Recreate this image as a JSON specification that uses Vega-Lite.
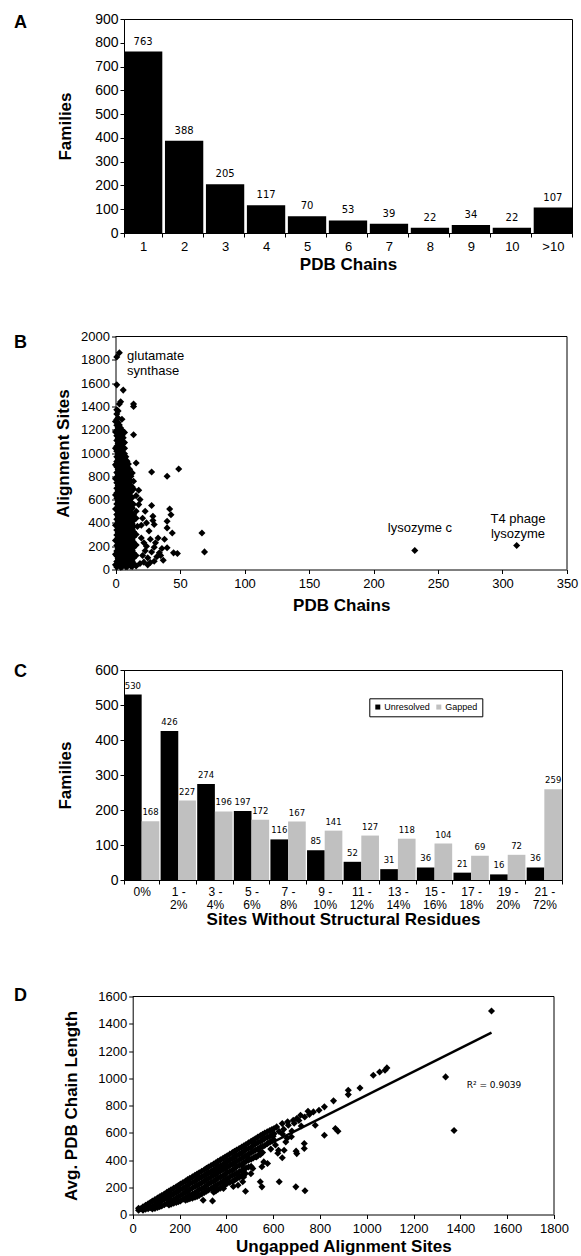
{
  "$schema": "https://vega.github.io/schema/vega-lite/v6.json",
  "background": "white",
  "padding": {"left": 13, "top": 11, "right": 5, "bottom": 2},
  "config": {
    "font": "Liberation Sans",
    "view": {"stroke": "black", "strokeWidth": 1},
    "axis": {"domainColor": "black", "tickColor": "black", "labelColor": "black", "titleColor": "black", "grid": false, "tickSize": 4, "labelFontSize": 12, "titleFontSize": 17, "titleFontWeight": "bold", "labelFont": "Liberation Sans", "titleFont": "Liberation Sans", "labelFlush": false, "labelOverlap": false},
    "title": {"font": "Liberation Sans", "fontSize": 18, "fontWeight": "bold", "anchor": "start", "frame": "group", "color": "black"}
  },
  "datasets": {
    "panelA": [
      {"chains": "1", "families": 763}, {"chains": "2", "families": 388}, {"chains": "3", "families": 205},
      {"chains": "4", "families": 117}, {"chains": "5", "families": 70}, {"chains": "6", "families": 53},
      {"chains": "7", "families": 39}, {"chains": "8", "families": 22}, {"chains": "9", "families": 34},
      {"chains": "10", "families": 22}, {"chains": ">10", "families": 107}
    ],
    "panelC": [
      {"range": "0%", "type": "Unresolved", "families": 530}, {"range": "0%", "type": "Gapped", "families": 168},
      {"range": "1 - 2%", "type": "Unresolved", "families": 426}, {"range": "1 - 2%", "type": "Gapped", "families": 227},
      {"range": "3 - 4%", "type": "Unresolved", "families": 274}, {"range": "3 - 4%", "type": "Gapped", "families": 196},
      {"range": "5 - 6%", "type": "Unresolved", "families": 197}, {"range": "5 - 6%", "type": "Gapped", "families": 172},
      {"range": "7 - 8%", "type": "Unresolved", "families": 116}, {"range": "7 - 8%", "type": "Gapped", "families": 167},
      {"range": "9 - 10%", "type": "Unresolved", "families": 85}, {"range": "9 - 10%", "type": "Gapped", "families": 141},
      {"range": "11 - 12%", "type": "Unresolved", "families": 52}, {"range": "11 - 12%", "type": "Gapped", "families": 127},
      {"range": "13 - 14%", "type": "Unresolved", "families": 31}, {"range": "13 - 14%", "type": "Gapped", "families": 118},
      {"range": "15 - 16%", "type": "Unresolved", "families": 36}, {"range": "15 - 16%", "type": "Gapped", "families": 104},
      {"range": "17 - 18%", "type": "Unresolved", "families": 21}, {"range": "17 - 18%", "type": "Gapped", "families": 69},
      {"range": "19 - 20%", "type": "Unresolved", "families": 16}, {"range": "19 - 20%", "type": "Gapped", "families": 72},
      {"range": "21 - 72%", "type": "Unresolved", "families": 36}, {"range": "21 - 72%", "type": "Gapped", "families": 259}
    ],
    "labelsBLeft": [
      {"chains": 9, "sites": 1830, "label": "glutamate\nsynthase"}
    ],
    "labelsBCenter": [
      {"chains": 236, "sites": 360, "label": "lysozyme c"},
      {"chains": 312, "sites": 434, "label": "T4 phage\nlysozyme"}
    ],
    "panelB": [
      {"chains": 0, "sites": 40}, {"chains": 0, "sites": 130}, {"chains": 0, "sites": 250}, {"chains": 0, "sites": 380}, {"chains": 0, "sites": 520}, {"chains": 0, "sites": 640}, {"chains": 0, "sites": 780}, {"chains": 0, "sites": 900}, {"chains": 0, "sites": 1040}, {"chains": 0, "sites": 1180}, {"chains": 0, "sites": 1270},
      {"chains": 1, "sites": 22}, {"chains": 1, "sites": 68}, {"chains": 1, "sites": 117}, {"chains": 1, "sites": 158}, {"chains": 1, "sites": 207}, {"chains": 1, "sites": 249}, {"chains": 1, "sites": 296}, {"chains": 1, "sites": 338}, {"chains": 1, "sites": 386}, {"chains": 1, "sites": 431}, {"chains": 1, "sites": 473}, {"chains": 1, "sites": 522}, {"chains": 1, "sites": 563}, {"chains": 1, "sites": 611}, {"chains": 1, "sites": 657}, {"chains": 1, "sites": 698}, {"chains": 1, "sites": 744}, {"chains": 1, "sites": 792}, {"chains": 1, "sites": 833}, {"chains": 1, "sites": 881}, {"chains": 1, "sites": 927}, {"chains": 1, "sites": 968}, {"chains": 1, "sites": 1016}, {"chains": 1, "sites": 1058}, {"chains": 1, "sites": 1107}, {"chains": 1, "sites": 1149}, {"chains": 1, "sites": 1196}, {"chains": 1, "sites": 1238}, {"chains": 1, "sites": 1287}, {"chains": 1, "sites": 1334}, {"chains": 1, "sites": 1371}, {"chains": 1, "sites": 1585}, {"chains": 1, "sites": 1825},
      {"chains": 2, "sites": 45}, {"chains": 2, "sites": 92}, {"chains": 2, "sites": 136}, {"chains": 2, "sites": 183}, {"chains": 2, "sites": 228}, {"chains": 2, "sites": 274}, {"chains": 2, "sites": 317}, {"chains": 2, "sites": 362}, {"chains": 2, "sites": 409}, {"chains": 2, "sites": 452}, {"chains": 2, "sites": 497}, {"chains": 2, "sites": 541}, {"chains": 2, "sites": 588}, {"chains": 2, "sites": 633}, {"chains": 2, "sites": 676}, {"chains": 2, "sites": 722}, {"chains": 2, "sites": 768}, {"chains": 2, "sites": 812}, {"chains": 2, "sites": 858}, {"chains": 2, "sites": 903}, {"chains": 2, "sites": 948}, {"chains": 2, "sites": 992}, {"chains": 2, "sites": 1038}, {"chains": 2, "sites": 1083}, {"chains": 2, "sites": 1127}, {"chains": 2, "sites": 1173}, {"chains": 2, "sites": 1216}, {"chains": 2, "sites": 1262}, {"chains": 2, "sites": 1300}, {"chains": 2, "sites": 1360},
      {"chains": 3, "sites": 44}, {"chains": 3, "sites": 90}, {"chains": 3, "sites": 137}, {"chains": 3, "sites": 182}, {"chains": 3, "sites": 229}, {"chains": 3, "sites": 273}, {"chains": 3, "sites": 318}, {"chains": 3, "sites": 364}, {"chains": 3, "sites": 408}, {"chains": 3, "sites": 454}, {"chains": 3, "sites": 498}, {"chains": 3, "sites": 543}, {"chains": 3, "sites": 589}, {"chains": 3, "sites": 633}, {"chains": 3, "sites": 678}, {"chains": 3, "sites": 722}, {"chains": 3, "sites": 767}, {"chains": 3, "sites": 813}, {"chains": 3, "sites": 857}, {"chains": 3, "sites": 902}, {"chains": 3, "sites": 947}, {"chains": 3, "sites": 993}, {"chains": 3, "sites": 1037}, {"chains": 3, "sites": 1083}, {"chains": 3, "sites": 1128}, {"chains": 3, "sites": 1175}, {"chains": 3, "sites": 1240}, {"chains": 3, "sites": 1420}, {"chains": 3, "sites": 1860},
      {"chains": 4, "sites": 20}, {"chains": 4, "sites": 66}, {"chains": 4, "sites": 113}, {"chains": 4, "sites": 161}, {"chains": 4, "sites": 204}, {"chains": 4, "sites": 251}, {"chains": 4, "sites": 293}, {"chains": 4, "sites": 341}, {"chains": 4, "sites": 384}, {"chains": 4, "sites": 429}, {"chains": 4, "sites": 476}, {"chains": 4, "sites": 519}, {"chains": 4, "sites": 566}, {"chains": 4, "sites": 608}, {"chains": 4, "sites": 654}, {"chains": 4, "sites": 701}, {"chains": 4, "sites": 746}, {"chains": 4, "sites": 789}, {"chains": 4, "sites": 836}, {"chains": 4, "sites": 879}, {"chains": 4, "sites": 924}, {"chains": 4, "sites": 971}, {"chains": 4, "sites": 1013}, {"chains": 4, "sites": 1061}, {"chains": 4, "sites": 1104}, {"chains": 4, "sites": 1152}, {"chains": 4, "sites": 1215}, {"chains": 4, "sites": 1440},
      {"chains": 5, "sites": 22}, {"chains": 5, "sites": 67}, {"chains": 5, "sites": 115}, {"chains": 5, "sites": 160}, {"chains": 5, "sites": 206}, {"chains": 5, "sites": 250}, {"chains": 5, "sites": 296}, {"chains": 5, "sites": 340}, {"chains": 5, "sites": 386}, {"chains": 5, "sites": 430}, {"chains": 5, "sites": 476}, {"chains": 5, "sites": 520}, {"chains": 5, "sites": 565}, {"chains": 5, "sites": 611}, {"chains": 5, "sites": 655}, {"chains": 5, "sites": 700}, {"chains": 5, "sites": 745}, {"chains": 5, "sites": 790}, {"chains": 5, "sites": 835}, {"chains": 5, "sites": 880}, {"chains": 5, "sites": 925}, {"chains": 5, "sites": 970}, {"chains": 5, "sites": 1015}, {"chains": 5, "sites": 1071}, {"chains": 5, "sites": 1150}, {"chains": 5, "sites": 1195}, {"chains": 5, "sites": 1290},
      {"chains": 6, "sites": 43}, {"chains": 6, "sites": 89}, {"chains": 6, "sites": 139}, {"chains": 6, "sites": 181}, {"chains": 6, "sites": 231}, {"chains": 6, "sites": 272}, {"chains": 6, "sites": 319}, {"chains": 6, "sites": 363}, {"chains": 6, "sites": 407}, {"chains": 6, "sites": 455}, {"chains": 6, "sites": 498}, {"chains": 6, "sites": 544}, {"chains": 6, "sites": 586}, {"chains": 6, "sites": 632}, {"chains": 6, "sites": 679}, {"chains": 6, "sites": 723}, {"chains": 6, "sites": 766}, {"chains": 6, "sites": 814}, {"chains": 6, "sites": 857}, {"chains": 6, "sites": 902}, {"chains": 6, "sites": 947}, {"chains": 6, "sites": 995}, {"chains": 6, "sites": 1040}, {"chains": 6, "sites": 1082}, {"chains": 6, "sites": 1130}, {"chains": 6, "sites": 1540},
      {"chains": 7, "sites": 46}, {"chains": 7, "sites": 91}, {"chains": 7, "sites": 136}, {"chains": 7, "sites": 182}, {"chains": 7, "sites": 228}, {"chains": 7, "sites": 273}, {"chains": 7, "sites": 318}, {"chains": 7, "sites": 364}, {"chains": 7, "sites": 409}, {"chains": 7, "sites": 454}, {"chains": 7, "sites": 499}, {"chains": 7, "sites": 544}, {"chains": 7, "sites": 590}, {"chains": 7, "sites": 634}, {"chains": 7, "sites": 679}, {"chains": 7, "sites": 724}, {"chains": 7, "sites": 768}, {"chains": 7, "sites": 813}, {"chains": 7, "sites": 858}, {"chains": 7, "sites": 903}, {"chains": 7, "sites": 948}, {"chains": 7, "sites": 993}, {"chains": 7, "sites": 1040}, {"chains": 7, "sites": 1090}, {"chains": 7, "sites": 1177},
      {"chains": 8, "sites": 24}, {"chains": 8, "sites": 70}, {"chains": 8, "sites": 114}, {"chains": 8, "sites": 163}, {"chains": 8, "sites": 206}, {"chains": 8, "sites": 252}, {"chains": 8, "sites": 297}, {"chains": 8, "sites": 343}, {"chains": 8, "sites": 387}, {"chains": 8, "sites": 432}, {"chains": 8, "sites": 474}, {"chains": 8, "sites": 521}, {"chains": 8, "sites": 567}, {"chains": 8, "sites": 612}, {"chains": 8, "sites": 656}, {"chains": 8, "sites": 699}, {"chains": 8, "sites": 745}, {"chains": 8, "sites": 791}, {"chains": 8, "sites": 836}, {"chains": 8, "sites": 880}, {"chains": 8, "sites": 925}, {"chains": 8, "sites": 968},
      {"chains": 9, "sites": 23}, {"chains": 9, "sites": 69}, {"chains": 9, "sites": 115}, {"chains": 9, "sites": 161}, {"chains": 9, "sites": 206}, {"chains": 9, "sites": 252}, {"chains": 9, "sites": 297}, {"chains": 9, "sites": 342}, {"chains": 9, "sites": 388}, {"chains": 9, "sites": 433}, {"chains": 9, "sites": 478}, {"chains": 9, "sites": 523}, {"chains": 9, "sites": 568}, {"chains": 9, "sites": 613}, {"chains": 9, "sites": 658}, {"chains": 9, "sites": 703}, {"chains": 9, "sites": 748}, {"chains": 9, "sites": 793}, {"chains": 9, "sites": 838}, {"chains": 9, "sites": 883}, {"chains": 9, "sites": 930},
      {"chains": 10, "sites": 47}, {"chains": 10, "sites": 93}, {"chains": 10, "sites": 137}, {"chains": 10, "sites": 184}, {"chains": 10, "sites": 229}, {"chains": 10, "sites": 275}, {"chains": 10, "sites": 318}, {"chains": 10, "sites": 365}, {"chains": 10, "sites": 410}, {"chains": 10, "sites": 453}, {"chains": 10, "sites": 499}, {"chains": 10, "sites": 545}, {"chains": 10, "sites": 589}, {"chains": 10, "sites": 635}, {"chains": 10, "sites": 677}, {"chains": 10, "sites": 724}, {"chains": 10, "sites": 769}, {"chains": 10, "sites": 815}, {"chains": 10, "sites": 859}, {"chains": 10, "sites": 905},
      {"chains": 11, "sites": 46}, {"chains": 11, "sites": 92}, {"chains": 11, "sites": 138}, {"chains": 11, "sites": 183}, {"chains": 11, "sites": 228}, {"chains": 11, "sites": 274}, {"chains": 11, "sites": 319}, {"chains": 11, "sites": 365}, {"chains": 11, "sites": 410}, {"chains": 11, "sites": 455}, {"chains": 11, "sites": 500}, {"chains": 11, "sites": 546}, {"chains": 11, "sites": 590}, {"chains": 11, "sites": 614}, {"chains": 11, "sites": 680}, {"chains": 11, "sites": 725}, {"chains": 11, "sites": 770}, {"chains": 11, "sites": 815}, {"chains": 11, "sites": 860},
      {"chains": 12, "sites": 28}, {"chains": 12, "sites": 72}, {"chains": 12, "sites": 118}, {"chains": 12, "sites": 165}, {"chains": 12, "sites": 211}, {"chains": 12, "sites": 254}, {"chains": 12, "sites": 300}, {"chains": 12, "sites": 346}, {"chains": 12, "sites": 392}, {"chains": 12, "sites": 438}, {"chains": 12, "sites": 483}, {"chains": 12, "sites": 530}, {"chains": 12, "sites": 575}, {"chains": 12, "sites": 621}, {"chains": 12, "sites": 666}, {"chains": 12, "sites": 712}, {"chains": 12, "sites": 757}, {"chains": 12, "sites": 800},
      {"chains": 13, "sites": 25}, {"chains": 13, "sites": 71}, {"chains": 13, "sites": 117}, {"chains": 13, "sites": 162}, {"chains": 13, "sites": 208}, {"chains": 13, "sites": 253}, {"chains": 13, "sites": 345}, {"chains": 13, "sites": 390}, {"chains": 13, "sites": 436}, {"chains": 13, "sites": 527}, {"chains": 13, "sites": 618}, {"chains": 13, "sites": 708}, {"chains": 13, "sites": 829},
      {"chains": 14, "sites": 52}, {"chains": 14, "sites": 98}, {"chains": 14, "sites": 141}, {"chains": 14, "sites": 188}, {"chains": 14, "sites": 233}, {"chains": 14, "sites": 279}, {"chains": 14, "sites": 325}, {"chains": 14, "sites": 370}, {"chains": 14, "sites": 420}, {"chains": 14, "sites": 470}, {"chains": 14, "sites": 560}, {"chains": 14, "sites": 690}, {"chains": 14, "sites": 757}, {"chains": 14, "sites": 1157}, {"chains": 14, "sites": 1400}, {"chains": 14, "sites": 1420},
      {"chains": 16, "sites": 30}, {"chains": 16, "sites": 120}, {"chains": 16, "sites": 210}, {"chains": 16, "sites": 300}, {"chains": 16, "sites": 440}, {"chains": 16, "sites": 500}, {"chains": 16, "sites": 634}, {"chains": 16, "sites": 914},
      {"chains": 17, "sites": 370}, {"chains": 18, "sites": 680}, {"chains": 19, "sites": 600}, {"chains": 18, "sites": 557}, {"chains": 19, "sites": 51}, {"chains": 20, "sites": 270}, {"chains": 20, "sites": 380}, {"chains": 21, "sites": 120}, {"chains": 21, "sites": 440}, {"chains": 22, "sites": 63}, {"chains": 22, "sites": 230}, {"chains": 23, "sites": 160}, {"chains": 23, "sites": 500}, {"chains": 24, "sites": 200}, {"chains": 24, "sites": 400}, {"chains": 25, "sites": 100}, {"chains": 25, "sites": 40}, {"chains": 26, "sites": 330}, {"chains": 27, "sites": 260}, {"chains": 27, "sites": 60}, {"chains": 28, "sites": 549}, {"chains": 28, "sites": 837}, {"chains": 28, "sites": 150}, {"chains": 29, "sites": 457}, {"chains": 29, "sites": 420}, {"chains": 30, "sites": 386}, {"chains": 30, "sites": 191}, {"chains": 30, "sites": 71}, {"chains": 31, "sites": 230}, {"chains": 32, "sites": 110}, {"chains": 33, "sites": 271}, {"chains": 34, "sites": 143}, {"chains": 35, "sites": 120}, {"chains": 36, "sites": 180}, {"chains": 37, "sites": 80}, {"chains": 38, "sites": 260}, {"chains": 40, "sites": 800}, {"chains": 40, "sites": 414}, {"chains": 40, "sites": 357}, {"chains": 40, "sites": 186}, {"chains": 42, "sites": 520}, {"chains": 43, "sites": 470}, {"chains": 44, "sites": 314}, {"chains": 45, "sites": 143}, {"chains": 48, "sites": 137}, {"chains": 49, "sites": 863}, {"chains": 67, "sites": 314}, {"chains": 69, "sites": 151}, {"chains": 232, "sites": 163}, {"chains": 311, "sites": 206}
    ],
    "panelD": [
      {"ungapped": 25, "length": 31}, {"ungapped": 25, "length": 46}, {"ungapped": 35, "length": 42},
      {"ungapped": 44, "length": 56}, {"ungapped": 44, "length": 31}, {"ungapped": 55, "length": 67}, {"ungapped": 55, "length": 38},
      {"ungapped": 66, "length": 79}, {"ungapped": 66, "length": 43}, {"ungapped": 75, "length": 88}, {"ungapped": 75, "length": 50},
      {"ungapped": 84, "length": 98}, {"ungapped": 84, "length": 57}, {"ungapped": 84, "length": 40}, {"ungapped": 95, "length": 109}, {"ungapped": 95, "length": 70}, {"ungapped": 95, "length": 45},
      {"ungapped": 106, "length": 121}, {"ungapped": 106, "length": 83}, {"ungapped": 106, "length": 52}, {"ungapped": 115, "length": 130}, {"ungapped": 115, "length": 92}, {"ungapped": 115, "length": 58},
      {"ungapped": 124, "length": 140}, {"ungapped": 124, "length": 103}, {"ungapped": 124, "length": 63}, {"ungapped": 135, "length": 151}, {"ungapped": 135, "length": 112}, {"ungapped": 135, "length": 72},
      {"ungapped": 146, "length": 163}, {"ungapped": 146, "length": 121}, {"ungapped": 146, "length": 81}, {"ungapped": 155, "length": 172}, {"ungapped": 155, "length": 131}, {"ungapped": 155, "length": 91}, {"ungapped": 155, "length": 70},
      {"ungapped": 164, "length": 182}, {"ungapped": 164, "length": 142}, {"ungapped": 164, "length": 102}, {"ungapped": 164, "length": 76}, {"ungapped": 175, "length": 193}, {"ungapped": 175, "length": 151}, {"ungapped": 175, "length": 111}, {"ungapped": 175, "length": 82},
      {"ungapped": 186, "length": 204}, {"ungapped": 186, "length": 161}, {"ungapped": 186, "length": 121}, {"ungapped": 186, "length": 88}, {"ungapped": 195, "length": 213}, {"ungapped": 195, "length": 172}, {"ungapped": 195, "length": 130}, {"ungapped": 195, "length": 93},
      {"ungapped": 204, "length": 223}, {"ungapped": 204, "length": 184}, {"ungapped": 204, "length": 140}, {"ungapped": 204, "length": 99}, {"ungapped": 215, "length": 234}, {"ungapped": 215, "length": 193}, {"ungapped": 215, "length": 152}, {"ungapped": 215, "length": 112},
      {"ungapped": 226, "length": 246}, {"ungapped": 226, "length": 203}, {"ungapped": 226, "length": 164}, {"ungapped": 226, "length": 124}, {"ungapped": 226, "length": 104}, {"ungapped": 235, "length": 256}, {"ungapped": 235, "length": 214}, {"ungapped": 235, "length": 173}, {"ungapped": 235, "length": 133}, {"ungapped": 235, "length": 110},
      {"ungapped": 244, "length": 265}, {"ungapped": 244, "length": 226}, {"ungapped": 244, "length": 183}, {"ungapped": 244, "length": 143}, {"ungapped": 244, "length": 116}, {"ungapped": 255, "length": 276}, {"ungapped": 255, "length": 235}, {"ungapped": 255, "length": 194}, {"ungapped": 255, "length": 151}, {"ungapped": 255, "length": 120},
      {"ungapped": 266, "length": 288}, {"ungapped": 266, "length": 245}, {"ungapped": 266, "length": 205}, {"ungapped": 266, "length": 160}, {"ungapped": 266, "length": 127}, {"ungapped": 275, "length": 297}, {"ungapped": 275, "length": 256}, {"ungapped": 275, "length": 213}, {"ungapped": 275, "length": 171}, {"ungapped": 275, "length": 133},
      {"ungapped": 284, "length": 306}, {"ungapped": 284, "length": 267}, {"ungapped": 284, "length": 222}, {"ungapped": 284, "length": 182}, {"ungapped": 284, "length": 140}, {"ungapped": 295, "length": 318}, {"ungapped": 295, "length": 276}, {"ungapped": 295, "length": 234}, {"ungapped": 295, "length": 191}, {"ungapped": 295, "length": 150},
      {"ungapped": 306, "length": 329}, {"ungapped": 306, "length": 286}, {"ungapped": 306, "length": 246}, {"ungapped": 306, "length": 201}, {"ungapped": 306, "length": 161}, {"ungapped": 315, "length": 339}, {"ungapped": 315, "length": 297}, {"ungapped": 315, "length": 256}, {"ungapped": 315, "length": 212}, {"ungapped": 315, "length": 170},
      {"ungapped": 324, "length": 348}, {"ungapped": 324, "length": 309}, {"ungapped": 324, "length": 265}, {"ungapped": 324, "length": 224}, {"ungapped": 324, "length": 180}, {"ungapped": 335, "length": 360}, {"ungapped": 335, "length": 318}, {"ungapped": 335, "length": 276}, {"ungapped": 335, "length": 234}, {"ungapped": 335, "length": 191},
      {"ungapped": 346, "length": 371}, {"ungapped": 346, "length": 328}, {"ungapped": 346, "length": 288}, {"ungapped": 346, "length": 244}, {"ungapped": 346, "length": 202}, {"ungapped": 346, "length": 163}, {"ungapped": 355, "length": 380}, {"ungapped": 355, "length": 339}, {"ungapped": 355, "length": 297}, {"ungapped": 355, "length": 255}, {"ungapped": 355, "length": 212}, {"ungapped": 355, "length": 172},
      {"ungapped": 364, "length": 390}, {"ungapped": 364, "length": 351}, {"ungapped": 364, "length": 307}, {"ungapped": 364, "length": 267}, {"ungapped": 364, "length": 222}, {"ungapped": 364, "length": 183}, {"ungapped": 375, "length": 401}, {"ungapped": 375, "length": 360}, {"ungapped": 375, "length": 318}, {"ungapped": 375, "length": 276}, {"ungapped": 375, "length": 233}, {"ungapped": 375, "length": 193},
      {"ungapped": 386, "length": 412}, {"ungapped": 386, "length": 369}, {"ungapped": 386, "length": 329}, {"ungapped": 386, "length": 285}, {"ungapped": 386, "length": 245}, {"ungapped": 386, "length": 204}, {"ungapped": 395, "length": 422}, {"ungapped": 395, "length": 380}, {"ungapped": 395, "length": 338}, {"ungapped": 395, "length": 296}, {"ungapped": 395, "length": 254}, {"ungapped": 395, "length": 216},
      {"ungapped": 404, "length": 431}, {"ungapped": 404, "length": 392}, {"ungapped": 404, "length": 348}, {"ungapped": 404, "length": 308}, {"ungapped": 404, "length": 264}, {"ungapped": 404, "length": 229}, {"ungapped": 415, "length": 443}, {"ungapped": 415, "length": 401}, {"ungapped": 415, "length": 359}, {"ungapped": 415, "length": 317}, {"ungapped": 415, "length": 275}, {"ungapped": 415, "length": 236},
      {"ungapped": 426, "length": 454}, {"ungapped": 426, "length": 411}, {"ungapped": 426, "length": 371}, {"ungapped": 426, "length": 327}, {"ungapped": 426, "length": 287}, {"ungapped": 426, "length": 242}, {"ungapped": 435, "length": 464}, {"ungapped": 435, "length": 422}, {"ungapped": 435, "length": 380}, {"ungapped": 435, "length": 338}, {"ungapped": 435, "length": 294}, {"ungapped": 435, "length": 252},
      {"ungapped": 444, "length": 473}, {"ungapped": 444, "length": 434}, {"ungapped": 444, "length": 390}, {"ungapped": 444, "length": 350}, {"ungapped": 444, "length": 302}, {"ungapped": 444, "length": 263}, {"ungapped": 455, "length": 485}, {"ungapped": 455, "length": 443}, {"ungapped": 455, "length": 401}, {"ungapped": 455, "length": 359}, {"ungapped": 455, "length": 313}, {"ungapped": 455, "length": 272},
      {"ungapped": 466, "length": 496}, {"ungapped": 466, "length": 453}, {"ungapped": 466, "length": 413}, {"ungapped": 466, "length": 369}, {"ungapped": 466, "length": 323}, {"ungapped": 466, "length": 282}, {"ungapped": 475, "length": 505}, {"ungapped": 475, "length": 464}, {"ungapped": 475, "length": 422}, {"ungapped": 475, "length": 379}, {"ungapped": 475, "length": 332}, {"ungapped": 475, "length": 292},
      {"ungapped": 484, "length": 514}, {"ungapped": 484, "length": 475}, {"ungapped": 484, "length": 431}, {"ungapped": 484, "length": 389}, {"ungapped": 484, "length": 341}, {"ungapped": 495, "length": 526}, {"ungapped": 495, "length": 484}, {"ungapped": 495, "length": 443}, {"ungapped": 495, "length": 398}, {"ungapped": 495, "length": 348},
      {"ungapped": 506, "length": 537}, {"ungapped": 506, "length": 494}, {"ungapped": 506, "length": 454}, {"ungapped": 506, "length": 406}, {"ungapped": 506, "length": 353}, {"ungapped": 515, "length": 547}, {"ungapped": 515, "length": 506}, {"ungapped": 515, "length": 462}, {"ungapped": 515, "length": 415},
      {"ungapped": 524, "length": 556}, {"ungapped": 524, "length": 517}, {"ungapped": 524, "length": 471}, {"ungapped": 524, "length": 424}, {"ungapped": 535, "length": 568}, {"ungapped": 535, "length": 527}, {"ungapped": 535, "length": 482}, {"ungapped": 535, "length": 432},
      {"ungapped": 546, "length": 579}, {"ungapped": 546, "length": 536}, {"ungapped": 546, "length": 493}, {"ungapped": 546, "length": 440}, {"ungapped": 555, "length": 588}, {"ungapped": 555, "length": 547}, {"ungapped": 555, "length": 500}, {"ungapped": 555, "length": 455},
      {"ungapped": 564, "length": 597}, {"ungapped": 564, "length": 557}, {"ungapped": 564, "length": 506}, {"ungapped": 575, "length": 607}, {"ungapped": 575, "length": 566}, {"ungapped": 575, "length": 520},
      {"ungapped": 586, "length": 617}, {"ungapped": 586, "length": 575}, {"ungapped": 586, "length": 532}, {"ungapped": 595, "length": 624}, {"ungapped": 595, "length": 584}, {"ungapped": 595, "length": 540},
      {"ungapped": 604, "length": 631}, {"ungapped": 604, "length": 593}, {"ungapped": 604, "length": 547},
      {"ungapped": 615, "length": 643}, {"ungapped": 639, "length": 667}, {"ungapped": 662, "length": 680}, {"ungapped": 686, "length": 692}, {"ungapped": 701, "length": 704}, {"ungapped": 717, "length": 729}, {"ungapped": 749, "length": 758}, {"ungapped": 772, "length": 753}, {"ungapped": 796, "length": 765}, {"ungapped": 819, "length": 790}, {"ungapped": 858, "length": 834}, {"ungapped": 921, "length": 912}, {"ungapped": 921, "length": 880}, {"ungapped": 971, "length": 929}, {"ungapped": 1028, "length": 1022}, {"ungapped": 1055, "length": 1046}, {"ungapped": 1078, "length": 1059}, {"ungapped": 1086, "length": 1076},
      {"ungapped": 780, "length": 655}, {"ungapped": 866, "length": 631}, {"ungapped": 877, "length": 611}, {"ungapped": 819, "length": 582}, {"ungapped": 733, "length": 521}, {"ungapped": 733, "length": 484}, {"ungapped": 698, "length": 465}, {"ungapped": 701, "length": 447}, {"ungapped": 639, "length": 416}, {"ungapped": 623, "length": 472}, {"ungapped": 647, "length": 472}, {"ungapped": 678, "length": 570}, {"ungapped": 654, "length": 533}, {"ungapped": 576, "length": 374}, {"ungapped": 552, "length": 350}, {"ungapped": 529, "length": 423}, {"ungapped": 560, "length": 386}, {"ungapped": 497, "length": 411}, {"ungapped": 513, "length": 337}, {"ungapped": 466, "length": 362}, {"ungapped": 482, "length": 301}, {"ungapped": 450, "length": 289}, {"ungapped": 474, "length": 276}, {"ungapped": 545, "length": 240}, {"ungapped": 552, "length": 203}, {"ungapped": 450, "length": 215}, {"ungapped": 482, "length": 171}, {"ungapped": 626, "length": 240}, {"ungapped": 697, "length": 203}, {"ungapped": 736, "length": 174}, {"ungapped": 301, "length": 105}, {"ungapped": 341, "length": 100}, {"ungapped": 388, "length": 191},
      {"ungapped": 1337, "length": 1010}, {"ungapped": 1373, "length": 616}, {"ungapped": 1533, "length": 1494},
      {"ungapped": 625, "length": 610}, {"ungapped": 645, "length": 625}, {"ungapped": 665, "length": 655}, {"ungapped": 690, "length": 670}, {"ungapped": 710, "length": 690}, {"ungapped": 735, "length": 715}, {"ungapped": 755, "length": 735}, {"ungapped": 600, "length": 575}, {"ungapped": 640, "length": 590}, {"ungapped": 680, "length": 612}, {"ungapped": 720, "length": 650}, {"ungapped": 660, "length": 560}, {"ungapped": 610, "length": 510}, {"ungapped": 590, "length": 480}, {"ungapped": 620, "length": 450}, {"ungapped": 540, "length": 470}, {"ungapped": 505, "length": 300}, {"ungapped": 470, "length": 240}, {"ungapped": 430, "length": 205}, {"ungapped": 400, "length": 238}
    ],
    "trendD": [
      {"ungapped": 25, "length": 36},
      {"ungapped": 1533, "length": 1335}
    ],
    "labelD": [
      {"ungapped": 1427, "length": 953, "label": "R² = 0.9039"}
    ]
  },
  "vconcat": [
    {
      "spacing": 57.5,
      "vconcat": [
        {
          "title": {"text": "A", "dx": -110, "dy": 20, "baseline": "top", "offset": 0},
          "width": 448,
          "height": 214,
          "data": {"name": "panelA"},
          "encoding": {
            "x": {"field": "chains", "type": "ordinal", "sort": null, "scale": {"paddingInner": 0.065, "paddingOuter": 0}, "axis": {"title": "PDB Chains", "labelAngle": 0, "tickBand": "extent", "labelFontSize": 13, "labelPadding": 3, "titlePadding": 3}},
            "y": {"field": "families", "type": "quantitative", "scale": {"domain": [0, 900], "nice": false}, "axis": {"title": "Families", "values": [0, 100, 200, 300, 400, 500, 600, 700, 800, 900], "labelFontSize": 14, "labelPadding": 2, "titlePadding": 20.3}}
          },
          "layer": [
            {"mark": {"type": "bar", "color": "black"}},
            {"mark": {"type": "text", "baseline": "bottom", "dy": -5, "font": "DejaVu Sans", "fontSize": 10, "color": "black"}, "encoding": {"text": {"field": "families"}}}
          ]
        },
        {
          "title": {"text": "B", "dx": -110, "dy": 21, "baseline": "top", "offset": 0},
          "width": 443,
          "height": 233,
          "view": {"stroke": null},
          "layer": [
            {
              "data": {"name": "panelB"},
              "mark": {"type": "point", "shape": "diamond", "filled": true, "color": "black", "size": 50, "opacity": 1},
              "encoding": {
                "x": {"field": "chains", "type": "quantitative", "scale": {"domain": [0, 350], "nice": false, "range": [-8.5, 443]}, "axis": {"title": "PDB Chains", "format": "d", "values": [0, 50, 100, 150, 200, 250, 300, 350], "labelFontSize": 13, "labelPadding": 4, "titlePadding": 7}},
                "y": {"field": "sites", "type": "quantitative", "scale": {"domain": [0, 2000], "nice": false}, "axis": {"title": "Alignment Sites", "format": "d", "offset": 8.5, "values": [0, 200, 400, 600, 800, 1000, 1200, 1400, 1600, 1800, 2000], "labelFontSize": 13, "labelPadding": 2, "titlePadding": 8.3}}
              }
            },
            {
              "data": {"values": [{}]},
              "mark": {"type": "rule", "color": "black", "strokeWidth": 1},
              "encoding": {
                "x": {"datum": 0, "type": "quantitative", "axis": {"title": "PDB Chains", "format": "d", "values": [0, 50, 100, 150, 200, 250, 300, 350], "labelFontSize": 13, "labelPadding": 4, "titlePadding": 7}},
                "x2": {"datum": 350},
                "y": {"datum": 2000, "type": "quantitative", "axis": {"title": "Alignment Sites", "format": "d", "offset": 8.5, "values": [0, 200, 400, 600, 800, 1000, 1200, 1400, 1600, 1800, 2000], "labelFontSize": 13, "labelPadding": 2, "titlePadding": 8.3}}
              }
            },
            {
              "data": {"values": [{}]},
              "mark": {"type": "rule", "color": "black", "strokeWidth": 1},
              "encoding": {
                "x": {"datum": 350, "type": "quantitative", "axis": {"title": "PDB Chains", "format": "d", "values": [0, 50, 100, 150, 200, 250, 300, 350], "labelFontSize": 13, "labelPadding": 4, "titlePadding": 7}},
                "y": {"datum": 0, "type": "quantitative", "axis": {"title": "Alignment Sites", "format": "d", "offset": 8.5, "values": [0, 200, 400, 600, 800, 1000, 1200, 1400, 1600, 1800, 2000], "labelFontSize": 13, "labelPadding": 2, "titlePadding": 8.3}},
                "y2": {"datum": 2000}
              }
            },
            {
              "data": {"name": "labelsBLeft"},
              "mark": {"type": "text", "align": "left", "baseline": "middle", "lineBreak": "\n", "fontSize": 13, "lineHeight": 15, "color": "black"},
              "encoding": {
                "x": {"field": "chains", "type": "quantitative", "axis": {"title": "PDB Chains", "format": "d", "values": [0, 50, 100, 150, 200, 250, 300, 350], "labelFontSize": 13, "labelPadding": 4, "titlePadding": 7}},
                "y": {"field": "sites", "type": "quantitative", "axis": {"title": "Alignment Sites", "format": "d", "offset": 8.5, "values": [0, 200, 400, 600, 800, 1000, 1200, 1400, 1600, 1800, 2000], "labelFontSize": 13, "labelPadding": 2, "titlePadding": 8.3}},
                "text": {"field": "label"}
              }
            },
            {
              "data": {"name": "labelsBCenter"},
              "mark": {"type": "text", "align": "center", "baseline": "middle", "lineBreak": "\n", "fontSize": 13, "lineHeight": 15, "color": "black"},
              "encoding": {
                "x": {"field": "chains", "type": "quantitative", "axis": {"title": "PDB Chains", "format": "d", "values": [0, 50, 100, 150, 200, 250, 300, 350], "labelFontSize": 13, "labelPadding": 4, "titlePadding": 7}},
                "y": {"field": "sites", "type": "quantitative", "axis": {"title": "Alignment Sites", "format": "d", "offset": 8.5, "values": [0, 200, 400, 600, 800, 1000, 1200, 1400, 1600, 1800, 2000], "labelFontSize": 13, "labelPadding": 2, "titlePadding": 8.3}},
                "text": {"field": "label"}
              }
            }
          ]
        }
      ]
    },
    {
      "spacing": 58.5,
      "vconcat": [
        {
          "title": {"text": "C", "dx": -110, "dy": 18, "baseline": "top", "offset": 0},
          "width": 438,
          "height": 210,
          "data": {"name": "panelC"},
          "encoding": {
            "x": {"field": "range", "type": "nominal", "sort": null, "scale": {"paddingInner": 0.035, "paddingOuter": 0}, "axis": {"title": "Sites Without Structural Residues", "labelAngle": 0, "tickBand": "extent", "labelFontSize": 12, "labelLineHeight": 13.5, "labelBaseline": "top", "labelPadding": 2, "titlePadding": 1, "labelExpr": "indexof(datum.label, ' - ') > 0 ? [split(datum.label, ' - ')[0] + ' -', split(datum.label, ' - ')[1]] : datum.label"}},
            "xOffset": {"field": "type", "type": "nominal", "sort": ["Unresolved", "Gapped"], "scale": {"paddingInner": 0, "paddingOuter": 0}},
            "y": {"field": "families", "type": "quantitative", "scale": {"domain": [0, 600], "nice": false}, "axis": {"title": "Families", "values": [0, 100, 200, 300, 400, 500, 600], "labelFontSize": 14, "labelPadding": 2, "titlePadding": 20.3}}
          },
          "layer": [
            {
              "mark": {"type": "bar"},
              "encoding": {
                "color": {"field": "type", "type": "nominal", "sort": ["Unresolved", "Gapped"], "scale": {"domain": ["Unresolved", "Gapped"], "range": ["black", "#c0c0c0"]}, "legend": {"title": null, "orient": "none", "legendX": 245.3, "legendY": 679.3, "direction": "horizontal", "symbolType": "square", "symbolSize": 25, "strokeColor": "black", "fillColor": "white", "padding": 4, "labelFontSize": 9, "labelFont": "Liberation Sans", "columnPadding": 4, "labelOffset": 2}}
              }
            },
            {
              "mark": {"type": "text", "baseline": "bottom", "dy": -4, "font": "DejaVu Sans", "fontSize": 8.5, "color": "black"},
              "encoding": {"text": {"field": "families"}}
            }
          ]
        },
        {
          "title": {"text": "D", "dx": -110, "dy": 14, "baseline": "top", "offset": 0},
          "width": 430,
          "height": 218,
          "view": {"stroke": null},
          "layer": [
            {
              "data": {"name": "panelD"},
              "mark": {"type": "point", "shape": "diamond", "filled": true, "color": "black", "size": 50, "opacity": 1},
              "encoding": {
                "x": {"field": "ungapped", "type": "quantitative", "scale": {"domain": [0, 1800], "nice": false, "range": [8.7, 430]}, "axis": {"title": "Ungapped Alignment Sites", "format": "d", "values": [0, 200, 400, 600, 800, 1000, 1200, 1400, 1600, 1800], "labelFontSize": 13, "labelPadding": 4, "titlePadding": 3}},
                "y": {"field": "length", "type": "quantitative", "scale": {"domain": [0, 1600], "nice": false}, "axis": {"title": "Avg. PDB Chain Length", "format": "d", "offset": -8.7, "values": [0, 200, 400, 600, 800, 1000, 1200, 1400, 1600], "labelFontSize": 13, "labelPadding": 2, "titlePadding": 17.3}}
              }
            },
            {
              "data": {"values": [{}]},
              "mark": {"type": "rule", "color": "black", "strokeWidth": 1},
              "encoding": {
                "x": {"datum": 0, "type": "quantitative", "axis": {"title": "Ungapped Alignment Sites", "format": "d", "values": [0, 200, 400, 600, 800, 1000, 1200, 1400, 1600, 1800], "labelFontSize": 13, "labelPadding": 4, "titlePadding": 3}},
                "x2": {"datum": 1800},
                "y": {"datum": 1600, "type": "quantitative", "axis": {"title": "Avg. PDB Chain Length", "format": "d", "offset": -8.7, "values": [0, 200, 400, 600, 800, 1000, 1200, 1400, 1600], "labelFontSize": 13, "labelPadding": 2, "titlePadding": 17.3}}
              }
            },
            {
              "data": {"values": [{}]},
              "mark": {"type": "rule", "color": "black", "strokeWidth": 1},
              "encoding": {
                "x": {"datum": 1800, "type": "quantitative", "axis": {"title": "Ungapped Alignment Sites", "format": "d", "values": [0, 200, 400, 600, 800, 1000, 1200, 1400, 1600, 1800], "labelFontSize": 13, "labelPadding": 4, "titlePadding": 3}},
                "y": {"datum": 0, "type": "quantitative", "axis": {"title": "Avg. PDB Chain Length", "format": "d", "offset": -8.7, "values": [0, 200, 400, 600, 800, 1000, 1200, 1400, 1600], "labelFontSize": 13, "labelPadding": 2, "titlePadding": 17.3}},
                "y2": {"datum": 1600}
              }
            },
            {
              "data": {"name": "trendD"},
              "mark": {"type": "line", "color": "black", "strokeWidth": 2.5},
              "encoding": {
                "x": {"field": "ungapped", "type": "quantitative", "axis": {"title": "Ungapped Alignment Sites", "format": "d", "values": [0, 200, 400, 600, 800, 1000, 1200, 1400, 1600, 1800], "labelFontSize": 13, "labelPadding": 4, "titlePadding": 3}},
                "y": {"field": "length", "type": "quantitative", "axis": {"title": "Avg. PDB Chain Length", "format": "d", "offset": -8.7, "values": [0, 200, 400, 600, 800, 1000, 1200, 1400, 1600], "labelFontSize": 13, "labelPadding": 2, "titlePadding": 17.3}}
              }
            },
            {
              "data": {"name": "labelD"},
              "mark": {"type": "text", "align": "left", "baseline": "middle", "font": "DejaVu Sans", "fontSize": 9, "color": "black"},
              "encoding": {
                "x": {"field": "ungapped", "type": "quantitative", "axis": {"title": "Ungapped Alignment Sites", "format": "d", "values": [0, 200, 400, 600, 800, 1000, 1200, 1400, 1600, 1800], "labelFontSize": 13, "labelPadding": 4, "titlePadding": 3}},
                "y": {"field": "length", "type": "quantitative", "axis": {"title": "Avg. PDB Chain Length", "format": "d", "offset": -8.7, "values": [0, 200, 400, 600, 800, 1000, 1200, 1400, 1600], "labelFontSize": 13, "labelPadding": 2, "titlePadding": 17.3}},
                "text": {"field": "label"}
              }
            }
          ]
        }
      ]
    }
  ],
  "spacing": 48
}
